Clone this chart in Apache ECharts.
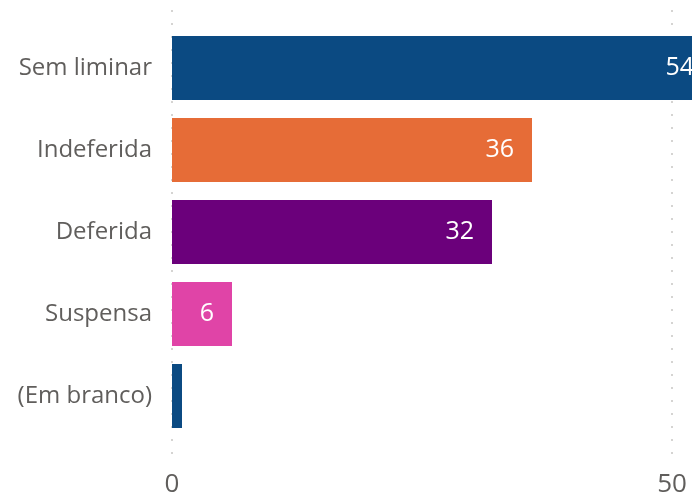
<!DOCTYPE html>
<html>
<head>
<meta charset="utf-8">
<script src="https://cdn.jsdelivr.net/npm/echarts@6/dist/echarts.min.js"></script>
<style>
  html, body { margin: 0; padding: 0; background: #fff; }
  #main { width: 692px; height: 498px; }
</style>
</head>
<body>
<div id="main"></div>
<script>
var categories = ['Sem liminar', 'Indeferida', 'Deferida', 'Suspensa', '(Em branco)'];
var values = [54, 36, 32, 6, 1];
var xTicks = [0, 50];

var barColors = ['#0b4a82', '#e66c37', '#6b007b', '#e044a7', '#0b4a82'];
var font = '"Open Sans", "Noto Sans", sans-serif';

var chart = echarts.init(document.getElementById('main'));

var barData = values.map(function(v, i) {
	var item = { value: v, itemStyle: { color: barColors[i] } };
	if (v < 3) item.label = { show: false };
	return item;
});

// the visible area stops at 50; the longest bar runs past the right edge
var option = {
	animation: false,
	grid: [
		{ left: 172, right: 20, top: 27, bottom: 61, containLabel: false },
		{ left: 172, right: 20, top: 10, bottom: 36, containLabel: false }
	],
	xAxis: [
		{
			gridIndex: 0,
			type: 'value',
			min: xTicks[0],
			max: xTicks[xTicks.length - 1],
			interval: 50,
			show: false
		},
		{
			gridIndex: 1,
			type: 'value',
			min: xTicks[0],
			max: xTicks[xTicks.length - 1],
			interval: 50,
			axisLine: { show: false },
			axisTick: { show: false },
			axisLabel: {
				color: '#605e5c',
				fontFamily: font,
				fontSize: 26,
				margin: 10
			},
			splitLine: {
				show: true,
				lineStyle: { color: '#c8c6c4', width: 1.5, type: [2, 11] }
			}
		}
	],
	yAxis: [
		{
			gridIndex: 0,
			type: 'category',
			data: categories,
			inverse: true,
			axisLine: { show: false },
			axisTick: { show: false },
			axisLabel: {
				color: '#605e5c',
				fontFamily: font,
				fontSize: 24,
				margin: 20
			}
		},
		{
			gridIndex: 1,
			type: 'value',
			min: 0,
			max: 1,
			show: false
		}
	],
	series: [
		{
			type: 'bar',
			xAxisIndex: 0,
			yAxisIndex: 0,
			data: barData,
			clip: false,
			barCategoryGap: '22%',
			label: {
				show: true,
				position: 'insideRight',
				distance: 18,
				color: '#ffffff',
				fontFamily: font,
				fontSize: 25
			}
		}
	]
};

chart.setOption(option);
</script>
</body>
</html>
